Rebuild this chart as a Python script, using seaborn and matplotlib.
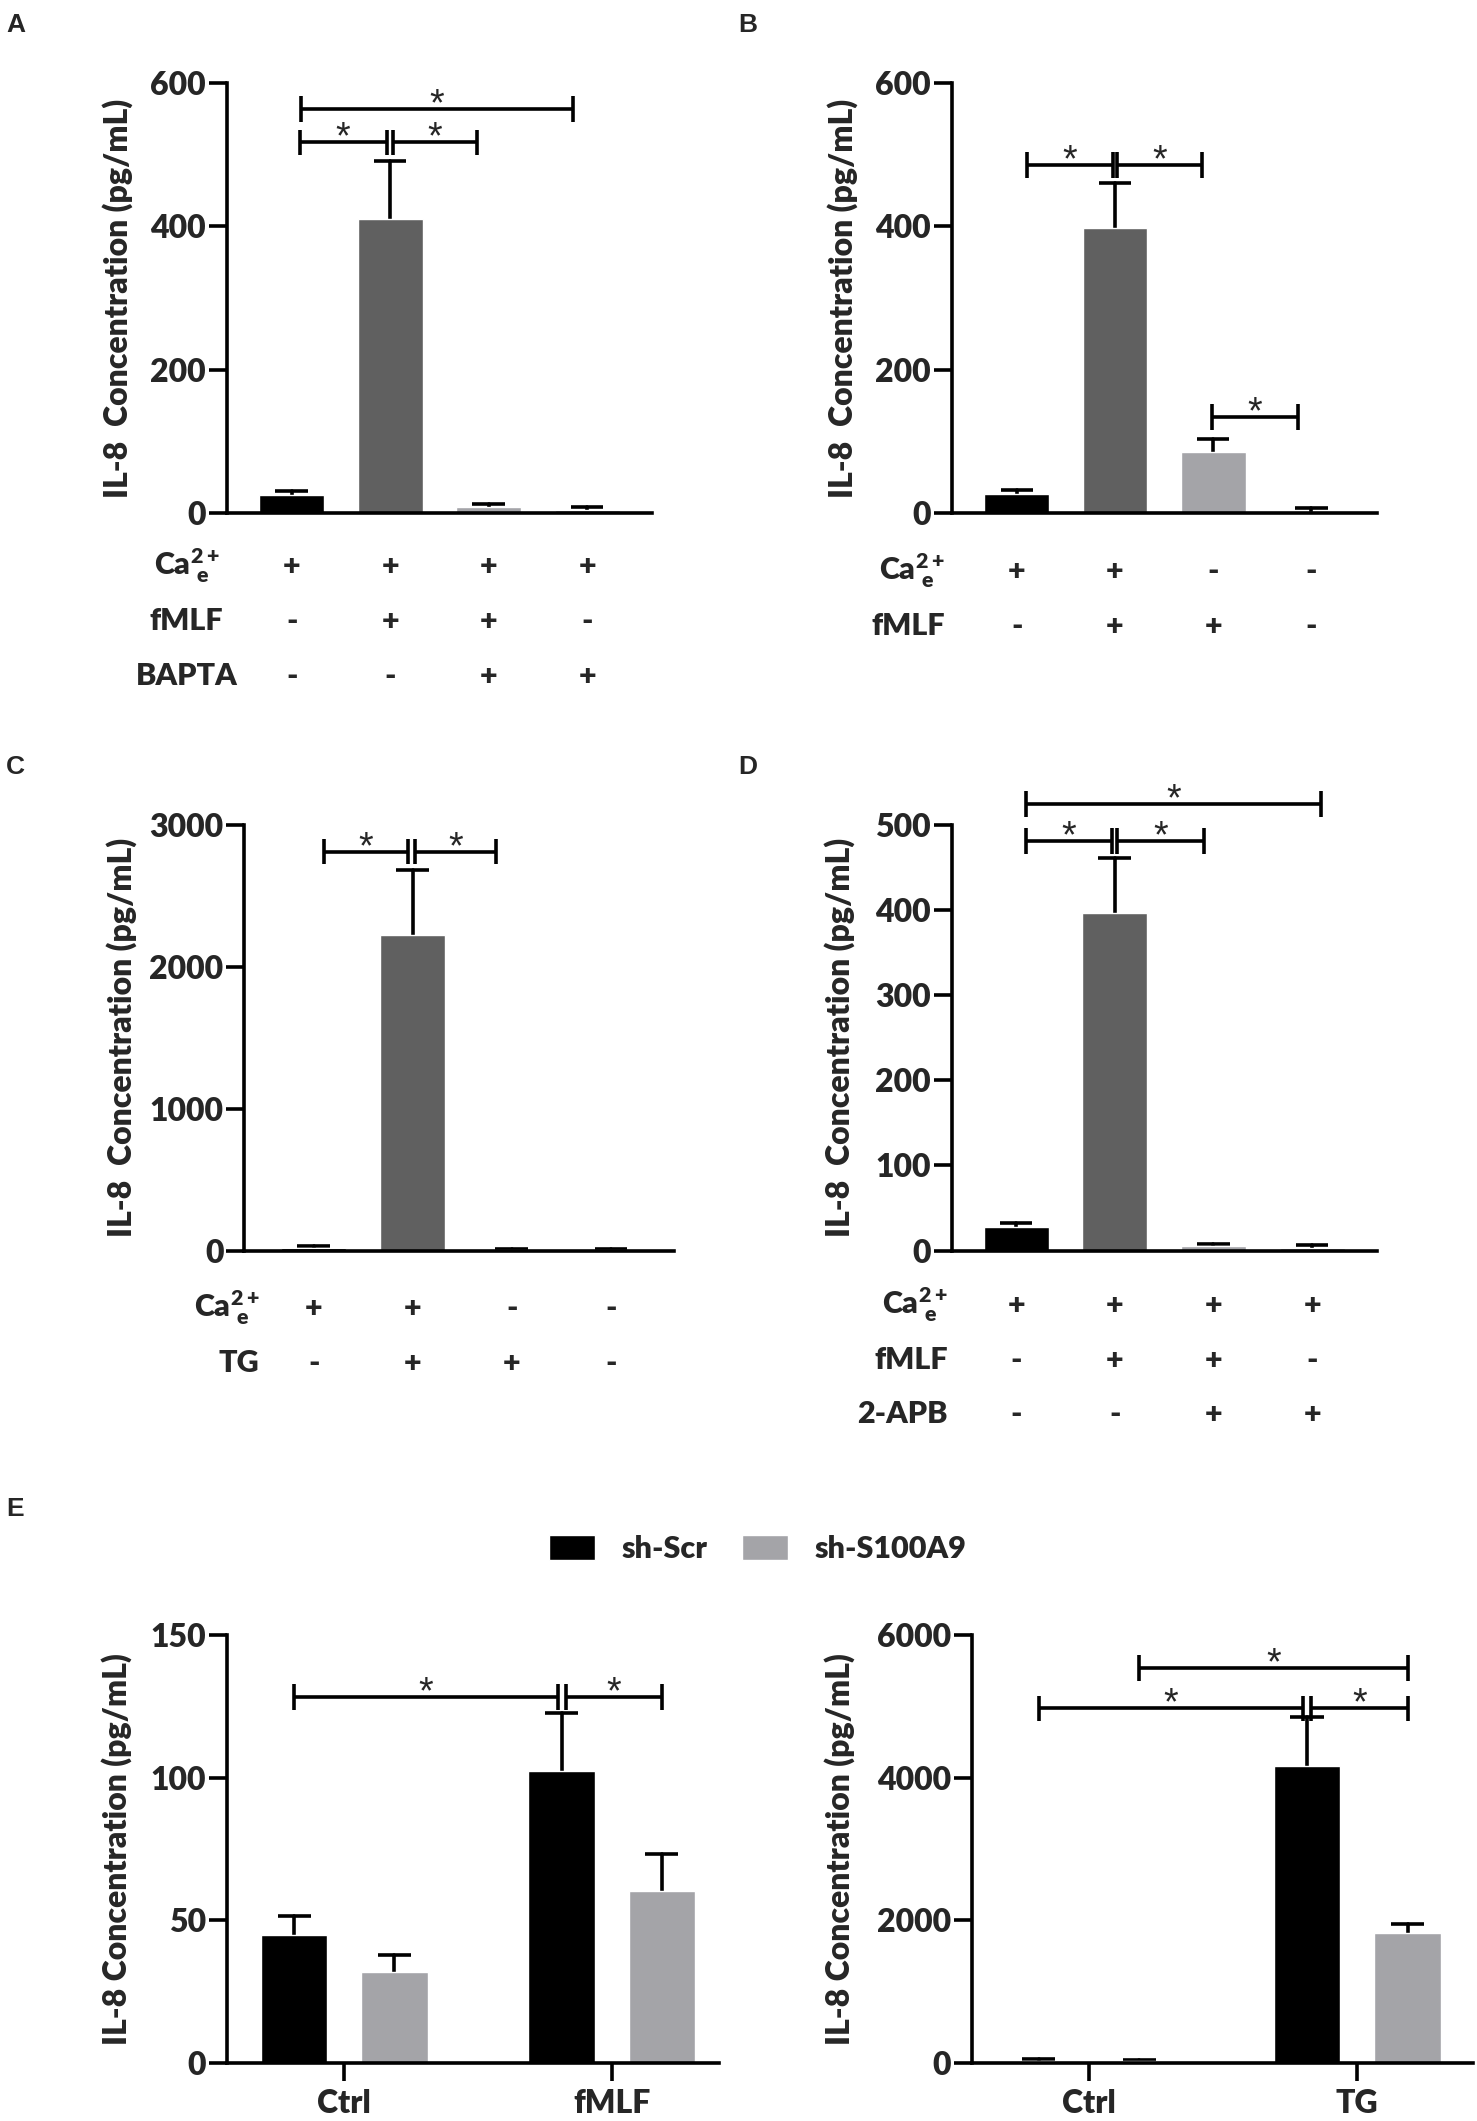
import matplotlib
matplotlib.use("Agg")
import matplotlib.pyplot as plt
import seaborn as sns
import pandas as pd

sns.set_theme(style="ticks")
plt.rcParams["font.family"] = ["Lato", "DejaVu Sans"]
plt.rcParams["font.weight"] = "heavy"
plt.rcParams["axes.labelweight"] = "heavy"
plt.rcParams["mathtext.fontset"] = "custom"
plt.rcParams["mathtext.rm"] = "Lato:heavy"
plt.rcParams["mathtext.bf"] = "Lato:heavy"
plt.rcParams["mathtext.it"] = "Lato:heavy"

BLACK = "#000000"
DARK = "#606060"
LIGHT = "#a4a4a8"
LW = 2.6
WT = "heavy"

# ---- data ----
# A
a_groups = ["Ca", "Ca+fMLF", "Ca+fMLF+BAPTA", "Ca+BAPTA"]
a_mean = [25, 410, 8, 4]
a_err = [6, 81, 4, 4]
a_ca = ["+", "+", "+", "+"]
a_fmlf = ["-", "+", "+", "-"]
a_bapta = ["-", "-", "+", "+"]
# (bar i, bar j, height, left inset, right inset)
a_sig = [(0, 3, 564, 0.09, -0.14), (0, 1, 517, 0.08, -0.035), (1, 2, 517, 0.03, -0.12)]

# B
b_groups = ["Ca", "Ca+fMLF", "fMLF", "none"]
b_mean = [26, 397, 85, 2]
b_err = [6, 63, 18, 5]
b_ca = ["+", "+", "-", "-"]
b_fmlf = ["-", "+", "+", "-"]
b_sig = [(0, 1, 485, 0.1, -0.025), (1, 2, 485, 0.025, -0.11), (2, 3, 134, -0.01, -0.14)]

# C
c_groups = ["Ca", "Ca+TG", "TG", "none"]
c_mean = [21, 2225, 6, 6]
c_err = [13, 453, 3, 3]
c_ca = ["+", "+", "-", "-"]
c_tg = ["-", "+", "+", "-"]
c_sig = [(0, 1, 2810, 0.1, -0.05), (1, 2, 2810, 0.02, -0.16)]

# D
d_groups = ["Ca", "Ca+fMLF", "Ca+fMLF+2APB", "Ca+2APB"]
d_mean = [27.5, 396, 5, 3]
d_err = [4.5, 65, 2.5, 3.5]
d_ca = ["+", "+", "+", "+"]
d_fmlf = ["-", "+", "+", "-"]
d_apb = ["-", "-", "+", "+"]
d_sig = [(0, 3, 524, 0.1, 0.09), (0, 1, 481, 0.1, -0.025), (1, 2, 481, 0.025, -0.1)]

# E
e_shrna = ["sh-Scr", "sh-S100A9"]
e1_groups = ["Ctrl", "fMLF"]
e1_scr = [44.8, 102.4]
e1_scr_err = [6.7, 20.2]
e1_s100 = [31.8, 60.3]
e1_s100_err = [6.1, 13.1]
# ((group, hue), (group, hue), height)
e1_sig = [((0, 0), (1, 0), 128.3), ((1, 0), (1, 1), 128.3)]

e2_groups = ["Ctrl", "TG"]
e2_scr = [35, 4160]
e2_scr_err = [24, 688]
e2_s100 = [24, 1828]
e2_s100_err = [17, 117]
e2_sig = [((0, 1), (1, 1), 5536), ((0, 0), (1, 0), 4972), ((1, 0), (1, 1), 4972)]

CA_LABEL = r"$\mathbf{Ca^{2+}_{\ e}}$"


def style_axis(ax, yticks, ymax):
    sns.despine(ax=ax)
    for s in ("left", "bottom"):
        ax.spines[s].set_linewidth(LW)
        ax.spines[s].set_color("black")
    ax.set_ylim(0, ymax)
    ax.set_yticks(yticks, labels=[str(v) for v in yticks], fontsize=23, fontweight=WT)
    ax.tick_params(axis="y", length=13, width=LW, pad=2, color="black")


def draw_errors(ax, bars, means, errs):
    # one-sided (upper) error bars, cap half as wide as the bar
    for p, m, e in zip(bars, means, errs):
        x = p.get_x() + p.get_width() / 2
        w = p.get_width() / 4
        ax.plot([x, x], [m, m + e], color="black", lw=LW, zorder=1, clip_on=False)
        ax.plot([x - w, x + w], [m + e, m + e], color="black", lw=LW, zorder=1,
                clip_on=False, solid_capstyle="butt")


def bracket(ax, x1, x2, y, ymax):
    h = 0.03 * ymax
    kw = dict(color="black", lw=LW, clip_on=False, solid_capstyle="butt")
    ax.plot([x1, x2], [y, y], **kw)
    ax.plot([x1, x1], [y - h, y + h], **kw)
    ax.plot([x2, x2], [y - h, y + h], **kw)
    ax.annotate("*", xy=((x1 + x2) / 2, y), xytext=(0, -4.5), textcoords="offset points",
                ha="center", va="baseline", fontsize=27, fontweight="normal",
                family=["Liberation Sans", "DejaVu Sans"], annotation_clip=False)


def cond_panel(ax, groups, means, errs, colors, yticks, rows, sigs, xlim,
               row_x, row_ha, row_y0, ylab_x):
    sns.barplot(x=groups, y=means, hue=groups, palette=colors, width=0.66,
                saturation=1, legend=False, ax=ax, zorder=2)
    bars = [p for c in ax.containers for p in c]
    xs = [p.get_x() + p.get_width() / 2 for p in bars]
    draw_errors(ax, bars, means, errs)
    ymax = yticks[-1]
    style_axis(ax, yticks, ymax)
    ax.set_xlim(*xlim)
    ax.set_xticks([])
    ax.set_xlabel("")
    ax.set_ylabel("IL-8  Concentration (pg/mL)", fontsize=23, fontweight=WT)
    ax.yaxis.set_label_coords(ylab_x, 0.5)
    for i, j, y, d1, d2 in sigs:
        bracket(ax, xs[i] + d1, xs[j] + d2, y, ymax)
    # condition table under the axis
    tr = ax.get_xaxis_transform()
    for k, (name, signs) in enumerate(rows):
        yy = -row_y0 - 0.128 * k
        ax.text(row_x, yy, name, transform=tr, ha=row_ha, va="center",
                fontsize=22, fontweight=WT)
        for x, s in zip(xs, signs):
            ax.text(x, yy, s, transform=tr, ha="center", va="center",
                    fontsize=22, fontweight=WT)


def group_panel(ax, groups, scr, scr_err, s100, s100_err, yticks, sigs, xlim, ylab_x):
    df = pd.DataFrame({
        "group": groups * 2,
        "shRNA": [e_shrna[0]] * len(groups) + [e_shrna[1]] * len(groups),
        "value": scr + s100,
    })
    sns.barplot(data=df, x="group", y="value", hue="shRNA", hue_order=e_shrna,
                palette=[BLACK, LIGHT], width=0.75, gap=0.34, saturation=1,
                errorbar=None, ax=ax, zorder=2)
    pos = []
    for cont, errs, means in zip(ax.containers, [scr_err, s100_err], [scr, s100]):
        bars = list(cont)
        draw_errors(ax, bars, means, errs)
        pos.append([p.get_x() + p.get_width() / 2 for p in bars])
    ymax = yticks[-1]
    style_axis(ax, yticks, ymax)
    ax.set_xlim(*xlim)
    ax.set_xticks(range(len(groups)), labels=groups, fontsize=23, fontweight=WT)
    ax.tick_params(axis="x", length=13, width=LW, pad=6, color="black")
    ax.set_xlabel("")
    ax.set_ylabel("IL-8 Concentration (pg/mL)", fontsize=23, fontweight=WT)
    ax.yaxis.set_label_coords(ylab_x, 0.5)
    for (g1, h1), (g2, h2), y in sigs:
        x1 = pos[h1][g1]
        x2 = pos[h2][g2]
        shared1 = any(s[1] == (g1, h1) and s[2] == y for s in sigs)
        shared2 = any(s[0] == (g2, h2) and s[2] == y for s in sigs)
        x1 += 0.015 if shared1 else 0.0
        x2 -= 0.015 if shared2 else 0.0
        bracket(ax, x1, x2, y, ymax)
    return ax


fig = plt.figure(figsize=(14.77, 21.21), dpi=100)

ax_a = fig.add_axes([0.1535, 0.7581, 0.288, 0.2028])
ax_b = fig.add_axes([0.6445, 0.7581, 0.288, 0.2028])
ax_c = fig.add_axes([0.1655, 0.4104, 0.291, 0.2008])
ax_d = fig.add_axes([0.6445, 0.4104, 0.288, 0.2008])
ax_e1 = fig.add_axes([0.1535, 0.0273, 0.333, 0.2018])
ax_e2 = fig.add_axes([0.658, 0.0273, 0.339, 0.2018])

cond_panel(ax_a, a_groups, a_mean, a_err, [BLACK, DARK, LIGHT, LIGHT], [0, 200, 400, 600],
           [(CA_LABEL, a_ca), ("fMLF", a_fmlf), ("BAPTA", a_bapta)], a_sig,
           (-0.66, 3.66), -1.07, "center", 0.122, -0.22)
cond_panel(ax_b, b_groups, b_mean, b_err, [BLACK, DARK, LIGHT, LIGHT], [0, 200, 400, 600],
           [(CA_LABEL, b_ca), ("fMLF", b_fmlf)], b_sig,
           (-0.66, 3.67), -0.73, "right", 0.135, -0.22)
cond_panel(ax_c, c_groups, c_mean, c_err, [BLACK, DARK, LIGHT, LIGHT], [0, 1000, 2000, 3000],
           [(CA_LABEL, c_ca), ("TG", c_tg)], c_sig,
           (-0.70, 3.64), -0.55, "right", 0.135, -0.25)
cond_panel(ax_d, d_groups, d_mean, d_err, [BLACK, DARK, LIGHT, LIGHT], [0, 100, 200, 300, 400, 500],
           [(CA_LABEL, d_ca), ("fMLF", d_fmlf), ("2-APB", d_apb)], d_sig,
           (-0.65, 3.66), -0.69, "right", 0.128, -0.227)

group_panel(ax_e1, e1_groups, e1_scr, e1_scr_err, e1_s100, e1_s100_err,
            [0, 50, 100, 150], e1_sig, (-0.44, 1.40), -0.193)
group_panel(ax_e2, e2_groups, e2_scr, e2_scr_err, e2_s100, e2_s100_err,
            [0, 2000, 4000, 6000], e2_sig, (-0.437, 1.43), -0.233)

ax_e2.get_legend().remove()
sns.move_legend(ax_e1, "center", bbox_to_anchor=(0.513, 0.2697), bbox_transform=fig.transFigure,
                ncol=2, frameon=False, title=None, fontsize=22, handlelength=1.5,
                handleheight=0.85, handletextpad=0.85, columnspacing=1.15)
for t in ax_e1.get_legend().get_texts():
    t.set_fontweight(WT)

for lab, x, y in [("A", 0.004, 0.994), ("B", 0.5, 0.994), ("C", 0.004, 0.644),
                  ("D", 0.5, 0.644), ("E", 0.004, 0.294)]:
    fig.text(x, y, lab, fontsize=19, fontweight="bold", family=["Liberation Sans", "DejaVu Sans"],
             ha="left", va="top")

fig.savefig("out.png", dpi=100, facecolor="white")
